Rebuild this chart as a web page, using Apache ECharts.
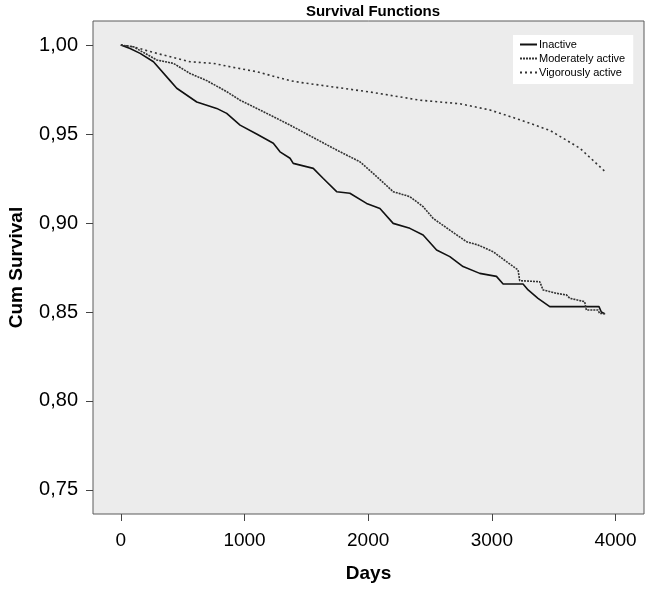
<!DOCTYPE html>
<html>
<head>
<meta charset="utf-8">
<script src="https://cdn.jsdelivr.net/npm/echarts@6/dist/echarts.min.js"></script>
<style>
html,body{margin:0;padding:0;background:#fff;}
#chart{width:647px;height:590px;}
</style>
</head>
<body>
<div id="chart"></div>
<script>
const titleText = 'Survival Functions';
const xName = 'Days';
const yName = 'Cum Survival';
const xTicks = [0, 1000, 2000, 3000, 4000];
const yTicks = [0.75, 0.80, 0.85, 0.90, 0.95, 1.00];
const seriesNames = ['Inactive', 'Moderately active', 'Vigorously active'];

const inactiveDays = [0, 75, 156, 264, 398, 452, 614, 775, 856, 964, 1098, 1233, 1287, 1368, 1394, 1556, 1637, 1745, 1852, 1987, 2095, 2202, 2337, 2444, 2553, 2660, 2767, 2902, 3037, 3091, 3252, 3293, 3373, 3468, 3866, 3885, 3911];
const inactiveSurv = [1.000, 0.998, 0.9953, 0.9906, 0.980, 0.9757, 0.968, 0.9644, 0.9616, 0.955, 0.950, 0.9448, 0.940, 0.9364, 0.9335, 0.9307, 0.925, 0.9176, 0.9167, 0.911, 0.9082, 0.8998, 0.897, 0.8933, 0.8848, 0.8811, 0.8755, 0.8717, 0.870, 0.8657, 0.8657, 0.8624, 0.8577, 0.853, 0.853, 0.850, 0.849];

const moderateDays = [0, 102, 291, 425, 560, 695, 856, 964, 1125, 1260, 1368, 1745, 1933, 2040, 2202, 2337, 2444, 2525, 2660, 2795, 2889, 3010, 3118, 3212, 3225, 3387, 3414, 3522, 3603, 3630, 3750, 3764, 3858, 3871, 3920];
const moderateSurv = [1.000, 0.999, 0.9916, 0.9897, 0.984, 0.980, 0.9738, 0.969, 0.9635, 0.9588, 0.955, 0.941, 0.9344, 0.9279, 0.9176, 0.9148, 0.9092, 0.9026, 0.896, 0.8895, 0.8876, 0.8839, 0.8783, 0.8736, 0.8676, 0.867, 0.8624, 0.8605, 0.8596, 0.8577, 0.8558, 0.8511, 0.8511, 0.8492, 0.849];

const vigorousDays = [0, 102, 291, 560, 748, 883, 1098, 1368, 1450, 2015, 2419, 2742, 2985, 3227, 3470, 3712, 3914];
const vigorousSurv = [1.000, 0.999, 0.9953, 0.9906, 0.9897, 0.9878, 0.985, 0.980, 0.979, 0.9736, 0.969, 0.967, 0.9635, 0.958, 0.952, 0.942, 0.929];

function pairs(xs, ys) { return xs.map((x, i) => [x, ys[i]]); }

const chart = echarts.init(document.getElementById('chart'), null, {renderer: 'canvas'});
const FONT = '"Liberation Sans", Arial, sans-serif';

chart.setOption({
  animation: false,
  backgroundColor: '#ffffff',
  title: {
    text: titleText,
    left: 368, top: -1, textAlign: 'center',
    textStyle: {fontFamily: FONT, fontSize: 15, fontWeight: 'bold', color: '#000'}
  },
  legend: {
    data: seriesNames,
    orient: 'vertical',
    left: 513, top: 35,
    padding: [4, 8, 6, 6],
    itemGap: 3,
    itemWidth: 17, itemHeight: 11,
    backgroundColor: '#ffffff',
    itemStyle: {opacity: 0},
    textStyle: {fontFamily: FONT, fontSize: 11, color: '#000', padding: [0, 0, 0, -3]}
  },
  grid: {
    left: 93, right: 3, top: 21, bottom: 76,
    outerBoundsMode: 'none', containLabel: false,
    show: true, backgroundColor: '#ececec', borderColor: '#5a5a5a', borderWidth: 1
  },
  xAxis: {
    type: 'value', min: -225, max: 4230,
    name: xName, nameLocation: 'middle', nameGap: 50,
    nameTextStyle: {fontFamily: FONT, fontSize: 19, fontWeight: 'bold', color: '#000'},
    axisLine: {show: false, onZero: false},
    axisTick: {show: true, length: 7, customValues: xTicks, lineStyle: {color: '#444'}},
    axisLabel: {customValues: xTicks, margin: 17, fontFamily: FONT, fontSize: 19, color: '#000',
      formatter: v => String(v)},
    splitLine: {show: false}
  },
  yAxis: {
    type: 'value', min: 0.7365, max: 1.0135,
    name: yName, nameLocation: 'middle', nameGap: 67, nameRotate: 90,
    nameTextStyle: {fontFamily: FONT, fontSize: 19, fontWeight: 'bold', color: '#000'},
    axisLine: {show: false, onZero: false},
    axisTick: {show: true, length: 7, customValues: yTicks, lineStyle: {color: '#444'}},
    axisLabel: {customValues: yTicks, margin: 15, fontFamily: FONT, fontSize: 20, color: '#000',
      formatter: v => v.toFixed(2).replace('.', ',')},
    splitLine: {show: false}
  },
  series: [
    {name: seriesNames[0], type: 'line', symbol: 'none', data: pairs(inactiveDays, inactiveSurv),
      lineStyle: {color: '#111', width: 1.6, type: 'solid'}, itemStyle: {color: '#111'}},
    {name: seriesNames[1], type: 'line', symbol: 'none', data: pairs(moderateDays, moderateSurv),
      lineStyle: {color: '#333', width: 1.6, type: [2, 1]}, itemStyle: {color: '#333'}},
    {name: seriesNames[2], type: 'line', symbol: 'none', data: pairs(vigorousDays, vigorousSurv),
      lineStyle: {color: '#333', width: 1.6, type: [2, 3]}, itemStyle: {color: '#333'}}
  ]
});
</script>
</body>
</html>
